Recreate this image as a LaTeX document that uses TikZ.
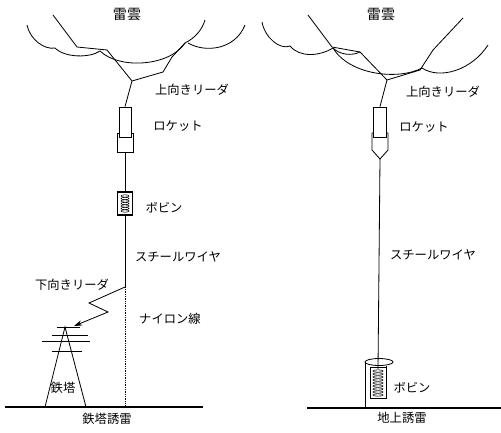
\documentclass[tikz,border=0pt]{standalone}
\usepackage{fontspec}
\newfontfamily\jpfont{Noto Sans CJK JP}
\usetikzlibrary{arrows.meta}
\tikzset{
  lbl/.style={font=\jpfont\fontsize{10.5}{12}\selectfont, inner sep=0pt},
  ttl/.style={font=\jpfont\fontsize{12}{14}\selectfont, inner sep=0pt},
  part/.style={draw, fill=white, inner sep=0pt},
  coil/.style={line width=.5pt},
  ground/.style={line width=1pt},
}
\begin{document}
\begin{tikzpicture}[x=.3mm,y=-.3mm,line width=.7pt]
\useasboundingbox (0,0) rectangle (501,432);
% left: tower triggered
\draw (27,25) .. controls (30,40) and (45,50) .. (55,48)
  .. controls (65,58) and (90,58) .. (100,51)
  .. controls (120,70) and (170,66) .. (185,43)
  .. controls (195,38) and (202,30) .. (205,20);
\draw (188,43) .. controls (205,53) and (235,50) .. (245,25);
\coordinate (jL) at (132,81);
\draw (53,15) -- (77,47) -- (107,50) -- (jL) -- (163,72) -- (172,57) -- (185,43);
\node[part, minimum width=4.8mm, minimum height=5.7mm] (capL) at (125,142.5) {};
\node[part, minimum width=3.6mm, minimum height=9mm] (rktL) at (125,122) {};
\draw (jL) -- (rktL.north);
\node[part, line width=.9pt, minimum width=4.5mm, minimum height=6.9mm] (bobL) at (125,203.5) {};
\foreach \y in {196,198.5,...,211}
  \draw[coil] (125,\y) ellipse [x radius=4, y radius=1.2];
\coordinate (wL) at (125,287);
\coordinate (gL) at (125,407);
\draw (capL.south) -- (bobL.north);
\draw (bobL.south) -- (wL);
\draw[densely dotted, line width=.5pt] (wL) -- (gL);
% tower
\coordinate (topL) at (65,327);
\draw (45,407) -- (topL) -- (86,407);
\draw (57,327) -- (80,327) (52,335) -- (88,335)
  (42,341) -- (90,341) (52,351) -- (82,351);
\draw[-{Stealth[length=7pt,width=4.5pt]}] (wL) -- (89,303) -- (108,312) -- (74,326);
\draw[ground] (5,407) -- (203,407);
\node[ttl] (cloudL) at (127,14) {雷雲};
\node[lbl] (upL) at (192,90) {上向きリーダ};
\node[lbl] (rocketL) at (178,126) {ロケット};
\node[lbl] (bobbinL) at (164,208) {ボビン};
\node[lbl] (wireL) at (178,257) {スチールワイヤ};
\node[lbl] (downL) at (72,285) {下向きリーダ};
\node[lbl] (nylon) at (170,319) {ナイロン線};
\node[lbl] (towerL) at (63,388) {鉄塔};
\node[lbl] (titleL) at (107,419) {鉄塔誘雷};
% right: ground triggered
\draw (262,22) .. controls (265,38) and (280,50) .. (290,46)
  .. controls (300,58) and (320,56) .. (333,48)
  .. controls (350,76) and (400,80) .. (422,68)
  .. controls (440,80) and (472,70) .. (488,45);
\draw (333,48) .. controls (340,55) and (352,56) .. (360,52);
\coordinate (jR) at (387,80);
\draw (308,15) -- (332,47) -- (360,52) -- (jR) -- (420,70) -- (433,50) -- (463,18);
\coordinate (noseR) at (380,159);
\draw[fill=white] (372,133) -- (388,133) -- (388,150) -- (noseR) -- (372,150) -- cycle;
\node[part, minimum width=3.9mm, minimum height=9mm] (rktR) at (380,122) {};
\draw (jR) -- (rktR.north);
% bobbin sunk in the ground
\coordinate (bobR) at (378,369);
\draw (379,362) ellipse [x radius=14, y radius=3.5];
\draw (365,362) -- (365,408);
\draw (370,367) rectangle (386,398);
\draw (386,365.5) -- (386,367);
\foreach \y in {371,374,...,395}
  \draw[coil] (378,\y) ellipse [x radius=5, y radius=1.2];
\draw (noseR) -- (bobR);
\draw[ground] (307,408) -- (501,408);
\node[ttl] (cloudR) at (381,14) {雷雲};
\node[lbl] (upR) at (443,92) {上向きリーダ};
\node[lbl] (rocketR) at (424,127) {ロケット};
\node[lbl] (wireR) at (433,255) {スチールワイヤ};
\node[lbl] (bobbinR) at (412,388) {ボビン};
\node[lbl] (titleR) at (402,418) {地上誘雷};
\end{tikzpicture}
\end{document}
